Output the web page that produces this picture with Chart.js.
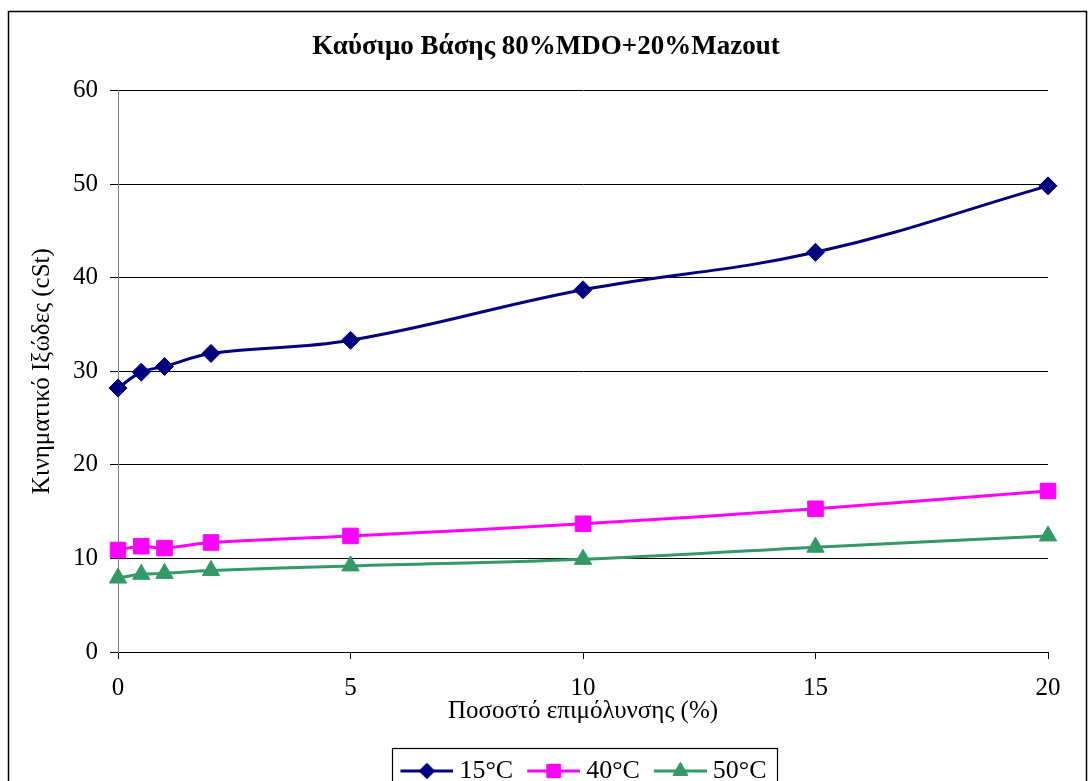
<!DOCTYPE html>
<html>
<head>
<meta charset="utf-8">
<script src="https://cdn.jsdelivr.net/npm/chart.js@4"></script>
<style>
  html, body { margin: 0; padding: 0; background: #fff; overflow: hidden; }
  #wrap { width: 1089px; height: 800px; position: relative; }
</style>
</head>
<body>
<div id="wrap"><canvas id="grafico"></canvas></div>
<script>
// dados
const percentagens = [0, 0.5, 1, 2, 5, 10, 15, 20];
const temp15 = [28.2, 29.9, 30.5, 31.9, 33.3, 38.7, 42.7, 49.8];
const temp40 = [10.9, 11.3, 11.1, 11.7, 12.4, 13.7, 15.3, 17.2];
const temp50 = [7.9, 8.3, 8.4, 8.7, 9.2, 9.9, 11.2, 12.4];
const rotulos = ['15°C', '40°C', '50°C'];

const titulo = 'Καύσιμο Βάσης 80%MDO+20%Mazout';
const tituloX = 'Ποσοστό επιμόλυνσης (%)';
const tituloY = 'Κινηματικό Ιξώδες (cSt)';

const serif = "'Liberation Serif', 'Times New Roman', serif";

function pontos(valores) {
    return percentagens.map((p, i) => ({x: p, y: valores[i]}));
}

// pequena imagem com linha + marcador para a legenda
function iconeLegenda(cor, estilo, raio) {
    const c = document.createElement('canvas');
    c.width = 66; c.height = 26;
    const g = c.getContext('2d');
    g.strokeStyle = cor;
    g.lineWidth = 3;
    g.beginPath(); g.moveTo(13, 13); g.lineTo(66, 13); g.stroke();
    g.fillStyle = cor;
    g.lineWidth = 1;
    Chart.helpers.drawPoint(g, {pointStyle: estilo, radius: raio, rotation: 0, borderWidth: 1}, 39.5, 13);
    g.fill();
    g.stroke();
    return c;
}

const moldura = {
    id: 'moldura',
    beforeDraw(chart) {
        const ctx = chart.ctx;
        ctx.save();
        ctx.fillStyle = '#fff';
        ctx.fillRect(0, 0, chart.width, chart.height);
        ctx.restore();
    },
    afterLayout(chart) {
        // no original a legenda e o título não ficam bem ao centro
        chart.legend.left = 67;
        chart.legend.right = 1094;
        chart.titleBlock.left = 32;
        chart.titleBlock.right = 1060;
    },
    afterDraw(chart) {
        const ctx = chart.ctx;
        ctx.save();
        ctx.strokeStyle = '#000';
        ctx.lineWidth = 1.5;
        ctx.strokeRect(8.5, 11.5, 1078, 820);
        // caixa da legenda
        const caixas = chart.legend.legendHitBoxes;
        if (caixas && caixas.length) {
            const primeiro = caixas[0];
            const ultimo = caixas[caixas.length - 1];
            const esq = primeiro.left - 2;
            const dir = ultimo.left + ultimo.width + 11;
            const topo = primeiro.top + primeiro.height / 2 - 23;
            ctx.lineWidth = 1.2;
            ctx.strokeRect(Math.round(esq) + 0.5, Math.round(topo) + 0.5, Math.round(dir - esq), 46);
        }
        ctx.restore();
    }
};

const series = [
    {dados: temp15, cor: '#000080', estilo: 'rectRot', raio: 9},
    {dados: temp40, cor: '#FF00FF', estilo: 'rect', raio: 11},
    {dados: temp50, cor: '#339966', estilo: 'triangle', raio: 10}
];

const ctx = document.getElementById('grafico').getContext('2d');
const grafico = new Chart(ctx, {
    type: 'line',
    data: {
        datasets: series.map((s, i) => ({
            label: rotulos[i],
            data: pontos(s.dados),
            borderColor: s.cor,
            backgroundColor: s.cor,
            borderWidth: 3,
            pointStyle: s.estilo,
            pointRadius: s.raio,
            pointHoverRadius: s.raio,
            pointBorderWidth: 1,
            tension: 0.4,
            clip: false
        }))
    },
    options: {
        responsive: true,
        maintainAspectRatio: false,
        animation: false,
        layout: {padding: {left: 20, right: 41, top: 10, bottom: 6}},
        plugins: {
            title: {
                display: true,
                text: titulo,
                color: '#000',
                font: {family: serif, size: 27, weight: 'bold', lineHeight: 1.2},
                padding: {top: 21, bottom: 27}
            },
            legend: {
                position: 'bottom',
                labels: {
                    color: '#000',
                    font: {family: serif, size: 26, lineHeight: 1},
                    usePointStyle: true,
                    pointStyleWidth: 52,
                    padding: 8,
                    generateLabels(chart) {
                        const itens = Chart.defaults.plugins.legend.labels.generateLabels(chart);
                        itens.forEach((it, i) => {
                            it.pointStyle = iconeLegenda(series[i].cor, series[i].estilo, series[i].raio * 0.85);
                        });
                        return itens;
                    }
                }
            },
            tooltip: {enabled: false}
        },
        scales: {
            x: {
                type: 'linear',
                min: 0,
                max: 20,
                ticks: {stepSize: 5, color: '#000', padding: 17, font: {family: serif, size: 25, lineHeight: 1}},
                grid: {drawOnChartArea: false, color: '#000', tickLength: 7},
                border: {color: '#000', width: 1},
                title: {
                    display: true, text: tituloX, color: '#000',
                    font: {family: serif, size: 25, lineHeight: 1},
                    padding: {top: -19, bottom: 26}
                }
            },
            y: {
                min: 0,
                max: 60,
                ticks: {stepSize: 10, color: '#000', padding: 12, font: {family: serif, size: 25, lineHeight: 1.2}},
                grid: {color: '#000', tickLength: 8, lineWidth: 1},
                border: {color: '#808080', width: 1},
                title: {
                    display: true, text: tituloY, color: '#000',
                    font: {family: serif, size: 25, lineHeight: 1.2},
                    padding: {top: 7, bottom: 4}
                }
            }
        }
    },
    plugins: [moldura]
});
</script>
</body>
</html>
